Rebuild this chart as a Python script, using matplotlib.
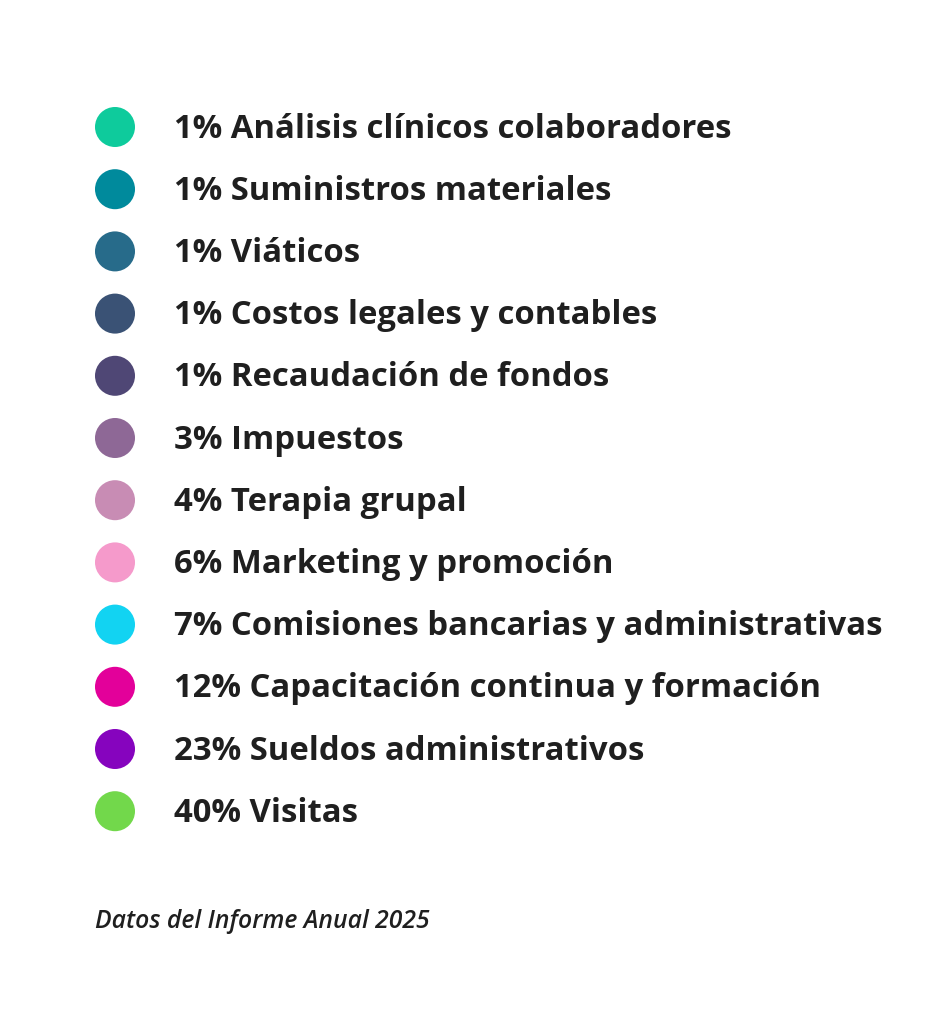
import matplotlib
matplotlib.use("Agg")
import matplotlib.pyplot as plt

# legend data
percents = [1, 1, 1, 1, 1, 3, 4, 6, 7, 12, 23, 40]
labels = ["Análisis clínicos colaboradores", "Suministros materiales", "Viáticos",
          "Costos legales y contables", "Recaudación de fondos", "Impuestos",
          "Terapia grupal", "Marketing y promoción",
          "Comisiones bancarias y administrativas",
          "Capacitación continua y formación", "Sueldos administrativos", "Visitas"]
colors = ["#0ECB9C", "#008A9C", "#276B8A", "#3A5275", "#4F4775", "#8E6896",
          "#C88CB4", "#F59ACB", "#12D3F2", "#E3009A", "#8604BE", "#72D84B"]
note = "Datos del Informe Anual 2025"

W, H = 942, 1024
fig = plt.figure(figsize=(W / 100, H / 100), dpi=100)
ax = fig.add_axes([0, 0, 1, 1])
ax.set_xlim(0, W)
first, step = 127, 62.2
ax.set_ylim((H - first) / step, -first / step)
ax.axis("off")

rows = list(range(len(labels)))
ax.scatter([115] * len(rows), rows, s=830, c=colors, linewidths=0)
for i, (p, lab) in enumerate(zip(percents, labels)):
    ax.text(174, i - 0.03, f"{p}% {lab}", fontsize=23.7, fontweight="bold",
            family="Open Sans", color="#1f1f1f", va="center_baseline", ha="left")

# source note under the list
fig.text(95 / W, 1 - 922 / H, note, fontsize=17.8, style="italic", fontweight=600,
         family="Open Sans", color="#1f1f1f", va="center", ha="left")

fig.savefig("out.png", dpi=100, facecolor="white")
